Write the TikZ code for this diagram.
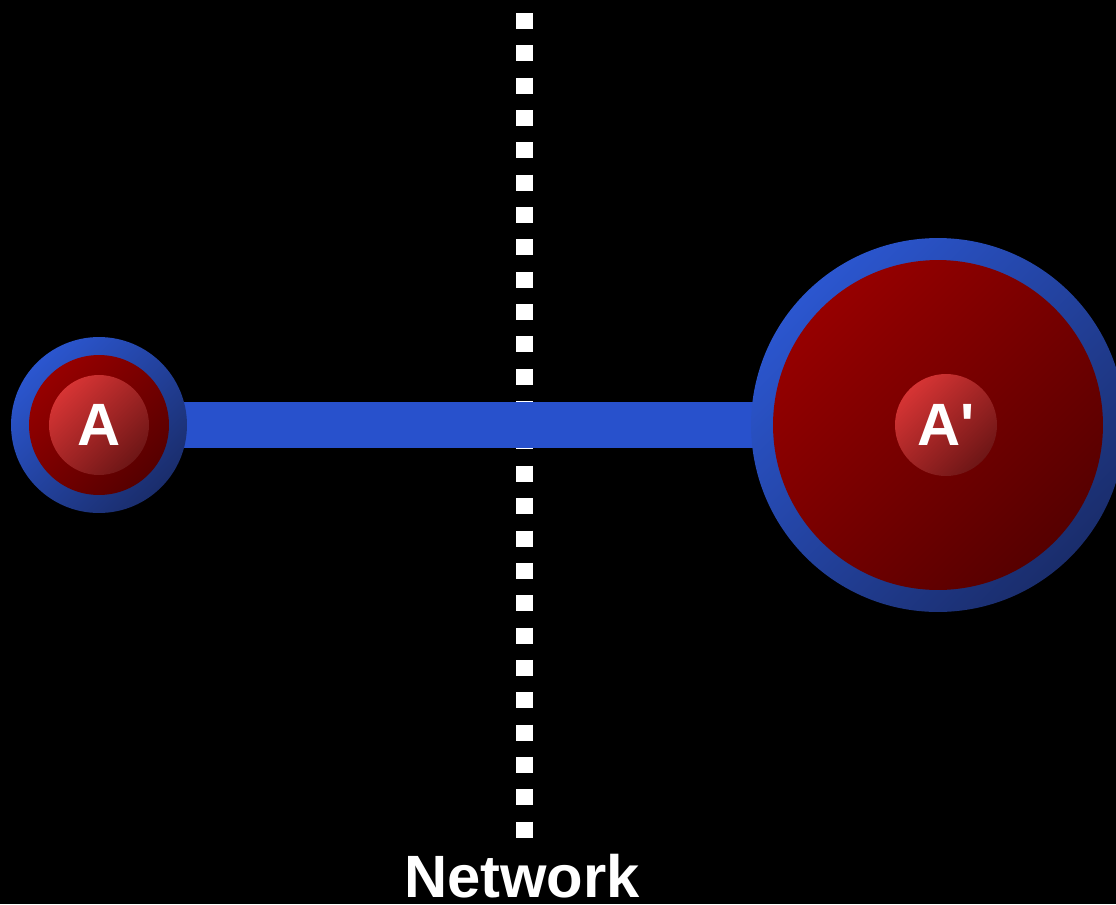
\documentclass[tikz,border=0pt]{standalone}
\usepackage{fontspec}
\setmainfont{Liberation Sans}
\usepackage{xcolor}
\usepackage{tikz}
\usetikzlibrary{
    positioning,
    backgrounds
}

\definecolor{ringlight}{HTML}{2B56CF}
\definecolor{ringdark}{HTML}{1A2D6C}
\definecolor{corelight}{HTML}{960000}
\definecolor{coredark}{HTML}{560000}
\definecolor{bulblight}{HTML}{D63434}
\definecolor{bulbdark}{HTML}{6E1616}
\definecolor{linkblue}{HTML}{2851CC}

\begin{document}
\begin{tikzpicture}[
    x=0.02cm,
    y=-0.02cm,
    ring/.style={
        circle,
        draw=none,
        inner sep=0pt,
        top color=ringlight,
        bottom color=ringdark,
        shading angle=45
    },
    core/.style={
        circle,
        draw=none,
        inner sep=0pt,
        top color=corelight,
        bottom color=coredark,
        shading angle=45
    },
    bulb/.style={
        circle,
        draw=none,
        inner sep=0pt,
        top color=bulblight,
        bottom color=bulbdark,
        shading angle=45,
        text=white,
        font=\fontsize{34}{40}\selectfont\bfseries
    },
    link/.style={
        draw=linkblue,
        line width=0.92cm
    },
    boundary/.style={
        draw=white,
        line width=0.34cm,
        dash pattern={on 0.32cm off 0.327cm}
    }
]

\useasboundingbox (0,0) rectangle (1116,904);

% ============================================================
% HOST A
% ============================================================

\node[ring, minimum size=3.52cm] (aring) at (99,425) {};
\node[core, minimum size=2.8cm] (acore) at (99,425) {};
\node[bulb, minimum size=2.0cm] (abulb) at (99,425) {A};

% ============================================================
% HOST A'
% ============================================================

\node[ring, minimum size=7.48cm] (bring) at (938,425) {};
\node[core, minimum size=6.6cm] (bcore) at (938,425) {};
\node[bulb, minimum size=2.04cm] (bbulb) at (946,425) {A\textquotesingle};

% ============================================================
% NETWORK BOUNDARY
% ============================================================

\coordinate (nettop) at (524.5,13);
\coordinate (netbottom) at (524.5,838);

\node[text=white, font=\fontsize{34}{40}\selectfont\bfseries,
      anchor=base, inner sep=0pt] (network) at (522,897)
{
Network
};

% ============================================================
% CONNECTIONS
% ============================================================

\begin{scope}[on background layer]
\fill[black] (0,0) rectangle (1116,904);
\draw[boundary] (nettop) -- (netbottom);
\draw[link] (aring.center) -- (bring.center);
\end{scope}

\end{tikzpicture}
\end{document}
